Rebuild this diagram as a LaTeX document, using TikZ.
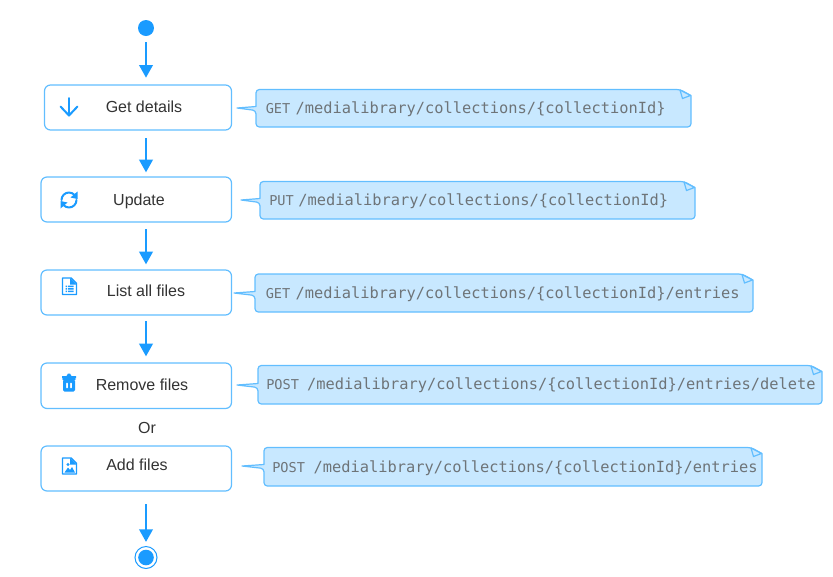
\documentclass[tikz,border=0pt]{standalone}
\usepackage{fontspec}
\setmainfont{Liberation Sans}
\newfontfamily\apimono{DejaVu Sans Mono}
\usetikzlibrary{arrows.meta,backgrounds,calc}
\definecolor{flowblue}{HTML}{1A9BFF}
\definecolor{edgeblue}{HTML}{62BEFF}
\definecolor{notefill}{HTML}{C8E8FF}
\definecolor{notetext}{HTML}{6E7478}
\definecolor{labeltext}{HTML}{333333}
\tikzset{
  stepbox/.style={draw=edgeblue,line width=0.9pt,rounded corners=4.5pt,fill=white,inner sep=0pt},
  steplabel/.style={text=labeltext,font=\fontsize{12pt}{14pt}\selectfont,inner sep=0pt},
  flow/.style={draw=flowblue,line width=1.9pt,-{Triangle[width=10pt,length=9.5pt]},shorten >=0pt},
  icon/.style={draw=flowblue,line width=1.5pt,line cap=round,line join=round},
  noteshape/.style={draw=edgeblue,line width=0.9pt,fill=notefill,line join=round},
  notefold/.style={draw=edgeblue,line width=0.9pt,fill=notefill,line join=round},
  notelabel/.style={text=notetext,inner ysep=0pt,inner xsep=0pt,anchor=west},
}
% method word then a gap (pt), then the path at the larger size
\newcommand{\apiline}[3]{{\fontsize{10.2pt}{13pt}\selectfont #1}\kern#2pt\fontsize{11.52pt}{13pt}\selectfont #3}
% step: name, x1, y1, x2, y2
\newcommand{\stepbox}[5]{%
  \node[stepbox,minimum width={(#4-#2)*0.75pt},minimum height={(#5-#3)*0.75pt}] (#1) at ({(#2+#4)/2},{(#3+#5)/2}) {};}
% note: name, x1, y1, x2, y2, tipx, tipy, textx, texty; text in \notetxt
\newcommand{\apinote}[9]{%
  \coordinate (#1tip) at (#6,#7);
  \path[noteshape,rounded corners=2.5pt]
    (#2,#7-1.5) -- (#2,#3) -- (#4-11,#3) [sharp corners] -- (#4,#3+6) [rounded corners=2.5pt] -- (#4,#5) -- (#2,#5) -- (#2,#7+2.5)
    [sharp corners] -- (#1tip) -- cycle;
  \path[notefold] (#4-11,#3+0.5) -- (#4-0.5,#3+6) -- (#4-8.5,#3+9) -- cycle;
  \node[notelabel] (#1) at (#8,#9) {\apimono\notetxt};}
\begin{document}
\begin{tikzpicture}[x=0.75pt,y=-0.75pt]
\useasboundingbox (0,0) rectangle (833,576);
% start and end
\node[circle,fill=flowblue,minimum size=12pt,inner sep=0pt] (start) at (146,28) {};
\node[circle,draw=flowblue,line width=0.75pt,fill=white,minimum size=16.5pt,inner sep=0pt] (stop) at (146,557.5) {};
\node[circle,fill=flowblue,minimum size=11.7pt,inner sep=0pt] (stopdot) at (146,557.5) {};
% steps
\stepbox{b1}{44.5}{85}{231.5}{130}
\stepbox{b2}{41}{177}{231.5}{222}
\stepbox{b3}{41}{270}{231.5}{315}
\stepbox{b4}{41}{363}{231.5}{408.5}
\stepbox{b5}{41}{446}{231.5}{491}
\node[steplabel] (l1) at (144,107) {Get details};
\node[steplabel] (l2) at (139,201.5) {Update};
\node[steplabel] (l3) at (146,291) {List all files};
\node[steplabel] (l4) at (142,385) {Remove files};
\node[steplabel] (l5) at (137,465) {Add files};
\node[steplabel] (or) at (147,428) {Or};
% connectors
\draw[flow,shorten <=4.5pt,shorten >=5pt] (start.south) -- (start.south |- b1.north);
\draw[flow,shorten <=5.75pt,shorten >=3pt] (start.south |- b1.south) -- (start.south |- b2.north);
\draw[flow,shorten <=5pt,shorten >=3.75pt] (start.south |- b2.south) -- (start.south |- b3.north);
\draw[flow,shorten <=4.25pt,shorten >=4.5pt] (start.south |- b3.south) -- (start.south |- b4.north);
\draw[flow,shorten <=9.5pt,shorten >=3pt] (start.south |- b5.south) -- (stop.north);
% notes
\def\notetxt{\apiline{GET}{4}{/medialibrary/collections/\{collectionId\}}}
\apinote{n1}{256}{89.5}{691}{127}{237}{108}{265.5}{109.5}
\def\notetxt{\apiline{PUT}{3.4}{/medialibrary/collections/\{collectionId\}}}
\apinote{n2}{260}{181.5}{695}{219}{241}{200}{269}{201.5}
\def\notetxt{\apiline{GET}{4}{/medialibrary/collections/\{collectionId\}/entries}}
\apinote{n3}{255}{274}{753}{312}{234}{293}{265.5}{294.5}
\def\notetxt{\apiline{POST}{6}{/medialibrary/collections/\{collectionId\}/entries/delete}}
\apinote{n4}{258}{365.5}{822}{404}{237}{385}{266}{385.5}
\def\notetxt{\apiline{POST}{6.5}{/medialibrary/collections/\{collectionId\}/entries}}
\apinote{n5}{264}{447.5}{762}{486}{242}{466}{272}{468.5}
% icon: down arrow
\draw[icon] (69,98) -- (69,115);
\draw[icon] (60.5,106.5) -- (69,115.5) -- (77.5,106.5);
% icon: refresh
\draw[icon] (61.5,200) arc[start angle=180,end angle=320,radius=7.5];
\draw[icon] (76.5,200) arc[start angle=0,end angle=140,radius=7.5];
\fill[flowblue] (77.5,191.5) -- (77.5,199) -- (70.5,197.5) -- cycle;
\fill[flowblue] (60.5,208.5) -- (60.5,201) -- (67.5,202.5) -- cycle;
% icon: document
\draw[icon,line width=1.1pt] (62.5,293.5) -- (62.5,278) -- (71,278) -- (76.5,283.5) -- (76.5,294.5) -- (62.5,294.5) -- cycle;
\fill[flowblue] (70,278) -- (70,284.5) -- (76.5,284.5) -- cycle;
\fill[flowblue] (65.5,285.5) rectangle (67,287) (68,285.5) rectangle (73.5,287);
\fill[flowblue] (65.5,288) rectangle (67,289.5) (68,288) rectangle (73.5,289.5);
\fill[flowblue] (65.5,290.5) rectangle (67,292) (68,290.5) rectangle (73.5,292);
% icon: trash
\fill[flowblue,rounded corners=0.8pt] (62,378) rectangle (76,380);
\fill[flowblue] (66.5,376) -- (68,373.5) -- (70,373.5) -- (71.5,376) -- (76,376) -- (76,378) -- (62,378) -- (62,376) -- cycle;
\fill[flowblue,rounded corners=1pt,even odd rule] (63,379.5) rectangle (75,391.5) (66,382) rectangle (68,389) (70,382) rectangle (72,389);
% icon: image
\draw[icon,line width=1.1pt] (62.5,474) -- (62.5,458) -- (71,458) -- (76.5,463.5) -- (76.5,474) -- cycle;
\fill[flowblue] (70,458) -- (70,464.5) -- (76.5,464.5) -- cycle;
\fill[flowblue] (68,464.5) circle[radius=1.6];
\fill[flowblue] (64.5,472.5) -- (68,467.5) -- (70,470) -- (72,467) -- (75,472.5) -- cycle;
\end{tikzpicture}
\end{document}
